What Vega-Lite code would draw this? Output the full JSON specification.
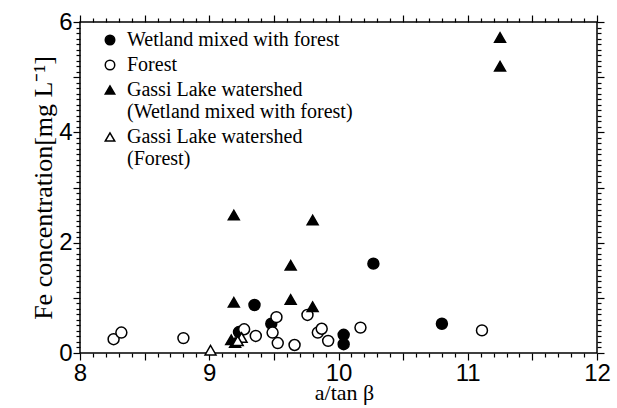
{
  "$schema": "https://vega.github.io/schema/vega-lite/v6.json",
  "autosize": {"type": "none"},
  "padding": {"left": 80, "top": 22, "right": 20, "bottom": 55},
  "width": 517,
  "height": 331,
  "background": "white",
  "config": {
    "view": {"stroke": "black", "strokeWidth": 1.5},
    "axis": {"domain": false, "grid": false, "ticks": true, "tickColor": "black", "tickWidth": 1.2, "tickOpacity": 1, "labelColor": "black", "titleColor": "black"}
  },
  "data": {"values": [
    {"g": "A", "x": 9.23, "y": 0.38},
    {"g": "A", "x": 9.35, "y": 0.87},
    {"g": "A", "x": 9.48, "y": 0.53},
    {"g": "A", "x": 10.04, "y": 0.33},
    {"g": "A", "x": 10.04, "y": 0.16},
    {"g": "A", "x": 10.27, "y": 1.62},
    {"g": "A", "x": 10.8, "y": 0.53},
    {"g": "B", "x": 8.26, "y": 0.25},
    {"g": "B", "x": 8.32, "y": 0.37},
    {"g": "B", "x": 8.8, "y": 0.27},
    {"g": "B", "x": 9.27, "y": 0.43},
    {"g": "B", "x": 9.36, "y": 0.31},
    {"g": "B", "x": 9.52, "y": 0.65},
    {"g": "B", "x": 9.49, "y": 0.37},
    {"g": "B", "x": 9.53, "y": 0.18},
    {"g": "B", "x": 9.66, "y": 0.145},
    {"g": "B", "x": 9.76, "y": 0.69},
    {"g": "B", "x": 9.84, "y": 0.37},
    {"g": "B", "x": 9.87, "y": 0.44},
    {"g": "B", "x": 9.92, "y": 0.22},
    {"g": "B", "x": 10.17, "y": 0.46},
    {"g": "B", "x": 11.11, "y": 0.41},
    {"g": "C", "x": 9.19, "y": 2.5},
    {"g": "C", "x": 9.8, "y": 2.41},
    {"g": "C", "x": 9.63, "y": 1.59},
    {"g": "C", "x": 9.19, "y": 0.92},
    {"g": "C", "x": 9.63, "y": 0.97},
    {"g": "C", "x": 9.8, "y": 0.84},
    {"g": "C", "x": 11.25, "y": 5.72},
    {"g": "C", "x": 11.25, "y": 5.2},
    {"g": "C", "x": 9.17, "y": 0.24},
    {"g": "C", "x": 9.2, "y": 0.19},
    {"g": "D", "x": 9.01, "y": 0.05},
    {"g": "D", "x": 9.25, "y": 0.28},
    {"g": "D", "x": 9.22, "y": 0.22}
  ]},
  "layer": [
    {
      "mark": {"type": "point", "strokeWidth": 1.5, "opacity": 1, "filled": false},
      "encoding": {
        "x": {"field": "x", "type": "quantitative", "scale": {"domain": [8, 12], "nice": false, "zero": false},
          "axis": {"orient": "bottom", "title": "a/tan β", "titleFont": "Liberation Serif", "titleFontSize": 22, "titleFontWeight": "normal", "titlePadding": -3, "titleX": 264,
            "values": [8,8.1,8.2,8.3,8.4,8.5,8.6,8.7,8.8,8.9,9,9.1,9.2,9.3,9.4,9.5,9.6,9.7,9.8,9.9,10,10.1,10.2,10.3,10.4,10.5,10.6,10.7,10.8,10.9,11,11.1,11.2,11.3,11.4,11.5,11.6,11.7,11.8,11.9,12],
            "tickSize": {"condition": {"test": "abs(datum.value*2 - round(datum.value*2)) < 0.001", "value": 7}, "value": 4},
            "labelExpr": "abs(datum.value - round(datum.value)) < 0.001 ? format(datum.value, 'd') : ''",
            "labelFont": "Liberation Sans", "labelFontSize": 24, "labelPadding": 1, "labelFlush": false, "labelOverlap": false}},
        "y": {"field": "y", "type": "quantitative", "scale": {"domain": [0, 6], "nice": false},
          "axis": {"orient": "left", "title": "Fe concentration[mg L⁻¹]", "titleFont": "Liberation Serif", "titleFontSize": 26, "titleFontWeight": "normal", "titlePadding": 2,
            "values": [0,0.1,0.2,0.3,0.4,0.5,0.6,0.7,0.8,0.9,1,1.1,1.2,1.3,1.4,1.5,1.6,1.7,1.8,1.9,2,2.1,2.2,2.3,2.4,2.5,2.6,2.7,2.8,2.9,3,3.1,3.2,3.3,3.4,3.5,3.6,3.7,3.8,3.9,4,4.1,4.2,4.3,4.4,4.5,4.6,4.7,4.8,4.9,5,5.1,5.2,5.3,5.4,5.5,5.6,5.7,5.8,5.9,6],
            "tickSize": {"condition": {"test": "abs(datum.value - round(datum.value)) < 0.001", "value": 7}, "value": 4},
            "labelExpr": "abs(datum.value/2 - round(datum.value/2)) < 0.001 ? format(datum.value, 'd') : ''",
            "labelFont": "Liberation Sans", "labelFontSize": 24, "labelPadding": 1, "labelFlush": false, "labelOverlap": false}},
        "shape": {"field": "g", "type": "nominal",
          "scale": {"domain": ["A", "B", "C", "D"], "range": ["circle", "circle", "triangle-up", "triangle-up"]},
          "legend": {"orient": "none", "legendX": 20, "legendY": 8, "title": null, "labelLimit": 0,
            "labelFont": "Liberation Serif", "labelFontSize": 20, "labelColor": "black", "labelOffset": 7, "symbolSize": 90, "symbolStrokeWidth": 1.5, "rowPadding": 5,
            "encode": {"labels": {"update": {"lineHeight": {"value": 20}}}},
            "labelExpr": "datum.label == 'A' ? 'Wetland mixed with forest' : datum.label == 'B' ? 'Forest' : datum.label == 'C' ? ['Gassi Lake watershed', '(Wetland mixed with forest)'] : ['Gassi Lake watershed', '(Forest)']"}},
        "fill": {"field": "g", "type": "nominal",
          "scale": {"domain": ["A", "B", "C", "D"], "range": ["black", "white", "black", "white"]},
          "legend": {"orient": "none", "legendX": 20, "legendY": 8, "title": null, "labelLimit": 0,
            "labelFont": "Liberation Serif", "labelFontSize": 20, "labelColor": "black", "labelOffset": 7, "symbolSize": 90, "symbolStrokeWidth": 1.5, "rowPadding": 5,
            "encode": {"labels": {"update": {"lineHeight": {"value": 20}}}},
            "labelExpr": "datum.label == 'A' ? 'Wetland mixed with forest' : datum.label == 'B' ? 'Forest' : datum.label == 'C' ? ['Gassi Lake watershed', '(Wetland mixed with forest)'] : ['Gassi Lake watershed', '(Forest)']"}},
        "stroke": {"field": "g", "type": "nominal",
          "scale": {"domain": ["A", "B", "C", "D"], "range": ["black", "black", "black", "black"]},
          "legend": {"orient": "none", "legendX": 20, "legendY": 8, "title": null, "labelLimit": 0,
            "labelFont": "Liberation Serif", "labelFontSize": 20, "labelColor": "black", "labelOffset": 7, "symbolSize": 90, "symbolStrokeWidth": 1.5, "rowPadding": 5,
            "encode": {"labels": {"update": {"lineHeight": {"value": 20}}}},
            "labelExpr": "datum.label == 'A' ? 'Wetland mixed with forest' : datum.label == 'B' ? 'Forest' : datum.label == 'C' ? ['Gassi Lake watershed', '(Wetland mixed with forest)'] : ['Gassi Lake watershed', '(Forest)']"}},
        "size": {"value": 120}
      }
    },
    {
      "mark": {"type": "point", "opacity": 0},
      "encoding": {
        "x": {"field": "x", "type": "quantitative",
          "axis": {"orient": "top", "title": null, "labels": false,
            "values": [8,8.1,8.2,8.3,8.4,8.5,8.6,8.7,8.8,8.9,9,9.1,9.2,9.3,9.4,9.5,9.6,9.7,9.8,9.9,10,10.1,10.2,10.3,10.4,10.5,10.6,10.7,10.8,10.9,11,11.1,11.2,11.3,11.4,11.5,11.6,11.7,11.8,11.9,12],
            "tickSize": {"condition": {"test": "abs(datum.value*2 - round(datum.value*2)) < 0.001", "value": 7}, "value": 4}}},
        "y": {"field": "y", "type": "quantitative",
          "axis": {"orient": "right", "title": null, "labels": false,
            "values": [0,0.1,0.2,0.3,0.4,0.5,0.6,0.7,0.8,0.9,1,1.1,1.2,1.3,1.4,1.5,1.6,1.7,1.8,1.9,2,2.1,2.2,2.3,2.4,2.5,2.6,2.7,2.8,2.9,3,3.1,3.2,3.3,3.4,3.5,3.6,3.7,3.8,3.9,4,4.1,4.2,4.3,4.4,4.5,4.6,4.7,4.8,4.9,5,5.1,5.2,5.3,5.4,5.5,5.6,5.7,5.8,5.9,6],
            "tickSize": {"condition": {"test": "abs(datum.value - round(datum.value)) < 0.001", "value": 7}, "value": 4}}}
      }
    }
  ],
  "resolve": {"axis": {"x": "independent", "y": "independent"}}
}
